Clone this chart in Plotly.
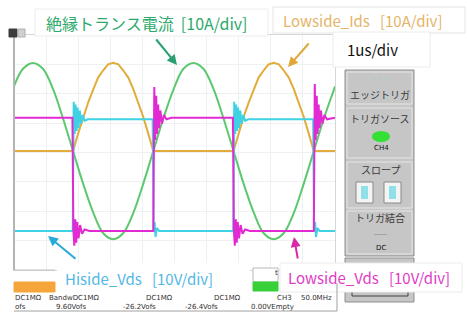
import plotly.graph_objects as go

# ---------------- data ----------------
# time axis in microseconds (1 us/div, 10 div)
t_current = [0.00, 0.28, 0.59, 0.90, 1.22, 1.53, 1.84, 2.15, 2.47, 2.78, 3.09, 3.40,
             3.72, 4.03, 4.34, 4.65, 4.97, 5.28, 5.59, 5.90, 6.22, 6.53, 6.84, 7.15,
             7.47, 7.78, 8.09, 8.40, 8.72, 9.03, 9.34, 9.65, 9.97, 10.00]
# insulating transformer current [A]
trafo_current = [22, 28, 30, 28, 21, 11, 0, -11, -21, -28, -30, -28,
                 -21, -11, 0, 11, 21, 28, 30, 28, 21, 11, 0, -11,
                 -21, -28, -30, -28, -21, -11, 0, 11, 21, 22]

# lowside drain current [A]
t_lowside_ids = [0.00, 1.84, 2.00, 2.15, 2.31, 2.47, 2.62, 2.78, 2.93, 3.09, 3.25, 3.40,
                 3.56, 3.72, 3.87, 4.03, 4.18, 4.34,
                 6.84, 7.00, 7.15, 7.31, 7.47, 7.62, 7.78, 7.93, 8.09, 8.25, 8.40,
                 8.56, 8.72, 8.87, 9.03, 9.18, 9.34, 10.00]
lowside_ids = [0, 0, 6, 11.5, 16.5, 21, 25, 27.5, 29.5, 30, 29.5, 27.5,
               25, 21, 16.5, 11.5, 6, 0,
               0, 6, 11.5, 16.5, 21, 25, 27.5, 29.5, 30, 29.5, 27.5,
               25, 21, 16.5, 11.5, 6, 0, 0]

# hiside Vds [V]
t_hiside_vds = [0.00, 1.83, 1.86, 1.89, 1.92, 1.95, 1.98, 2.01, 2.05, 2.09, 2.14, 2.20, 2.30,
                4.32, 4.35, 4.38, 4.41, 4.45, 4.52,
                6.83, 6.86, 6.89, 6.92, 6.95, 6.98, 7.01, 7.05, 7.09, 7.14, 7.20, 7.30,
                9.32, 9.35, 9.38, 9.41, 9.45, 9.52, 10.00]
hiside_vds = [0, 0, 44, 33, 43, 34, 42, 35, 41, 36.5, 39.5, 37.5, 38,
              38, 0, 3, -2, 1, 0,
              0, 44, 33, 43, 34, 42, 35, 41, 36.5, 39.5, 37.5, 38,
              38, 0, 3, -2, 1, 0, 0]

# lowside Vds [V]
t_lowside_vds = [0.00, 1.82, 1.85, 1.88, 1.91, 1.94, 1.97, 2.01, 2.06, 2.12, 2.20, 2.35,
                 4.34, 4.37, 4.40, 4.43, 4.46, 4.49, 4.52, 4.56, 4.61, 4.67, 4.75, 4.90,
                 6.82, 6.85, 6.88, 6.91, 6.94, 6.97, 7.01, 7.06, 7.12, 7.20, 7.35,
                 9.34, 9.37, 9.40, 9.43, 9.46, 9.49, 9.52, 9.56, 9.61, 9.67, 9.75, 10.00]
lowside_vds = [38.5, 38.5, 0, -5, 4, -4, 3, -2.5, 2, -1, 0.5, 0,
               0, 49, 31, 46, 33, 43, 35, 41, 36.5, 39.5, 38, 38.5,
               38.5, 0, -5, 4, -4, 3, -2.5, 2, -1, 0.5, 0,
               0, 50, 31, 46, 33, 43, 35, 41, 36.5, 39.5, 38, 38.5]

status_row1 = ["DC1MΩ", "BandwDC1MΩ", "DC1MΩ", "DC1MΩ", "CH3", "50.0MHz"]
status_row2 = ["ofs", "9.60Vofs", "-26.2Vofs", "-26.4Vofs", "0.00VEmpty"]

# ---------------- layout helpers ----------------
W, H = 467, 322


def X(px):
    return px / W


def Y(py):
    return 1 - py / H


GREEN = "#5cc86e"
ORANGE = "#e2ac3c"
CYAN = "#3fd2e4"
MAGENTA = "#e22ad2"

fig = go.Figure()
fig.add_trace(go.Scatter(x=t_hiside_vds, y=hiside_vds, yaxis="y2", mode="lines",
                         line=dict(color=CYAN, width=2), hoverinfo="skip"))
fig.add_trace(go.Scatter(x=t_lowside_vds, y=lowside_vds, yaxis="y2", mode="lines",
                         line=dict(color=MAGENTA, width=2), hoverinfo="skip"))
fig.add_trace(go.Scatter(x=t_lowside_ids, y=lowside_ids, mode="lines",
                         line=dict(color=ORANGE, width=2), hoverinfo="skip"))
fig.add_trace(go.Scatter(x=t_current, y=trafo_current, mode="lines",
                         line=dict(color=GREEN, width=2, shape="spline", smoothing=1),
                         hoverinfo="skip"))

px_top, px_bot = 35, 270
fig.update_layout(
    width=W, height=H, margin=dict(l=0, r=0, t=0, b=0),
    paper_bgcolor="white", plot_bgcolor="white", showlegend=False,
    xaxis=dict(domain=[X(14), X(335)], range=[0, 10], dtick=1, showticklabels=False,
               showgrid=True, gridcolor="#eef1f1", zeroline=False,
               showline=True, linecolor="#d6d6d6", mirror=True, ticks=""),
    yaxis=dict(domain=[Y(px_bot), Y(px_top)], range=[-40.5, 39.5], tick0=-0.5, dtick=10,
               showticklabels=False, showgrid=True, gridcolor="#eef1f1", zeroline=False,
               showline=True, linecolor="#d6d6d6", mirror=True, ticks=""),
    yaxis2=dict(domain=[Y(px_bot), Y(px_top)], range=[-13.3, 66.7], overlaying="y",
                showticklabels=False, showgrid=False, zeroline=False, ticks=""),
)

shapes = []


def rect(x0, y0, x1, y1, fill="white", line="#e2e2e2", lw=1, layer="above"):
    shapes.append(dict(type="rect", xref="paper", yref="paper", x0=X(x0), x1=X(x1),
                       y0=Y(y1), y1=Y(y0), fillcolor=fill,
                       line=dict(color=line, width=lw), layer=layer))


def hline(x0, x1, y, color="#a8a8a8", lw=1):
    shapes.append(dict(type="line", xref="paper", yref="paper", x0=X(x0), x1=X(x1),
                       y0=Y(y), y1=Y(y), line=dict(color=color, width=lw)))


def vline(x, y0, y1, color="#a8a8a8", lw=1):
    shapes.append(dict(type="line", xref="paper", yref="paper", x0=X(x), x1=X(x),
                       y0=Y(y0), y1=Y(y1), line=dict(color=color, width=lw)))


# left border of scope screen
vline(14, 35, 270, "#b4b4b4", 2)
hline(14, 55, 270, "#c0c0c0", 1)

# label boxes
rect(35, 9, 268, 36, line="#ececec")
rect(273, 7, 465, 33, line="#e4e4e4")
rect(333, 32, 430, 67, line="#ececec")
rect(57, 263, 250, 292, line="rgba(0,0,0,0)", lw=0)

# top-left icons
rect(9, 29, 17, 37, fill="#3c3c3c", line="#3c3c3c")
rect(18, 29, 25, 37, fill="#d0d0d0", line="#b0b0b0")

# right control panel
rect(345, 70, 414, 256, fill="#c6c6c6", line="#8e8e8e")
for (a, b) in [(72, 104), (108, 158), (162, 208), (211, 254)]:
    rect(347, a, 412, b, fill="#c6c6c6", line="#e6e6e6")
rect(356, 182, 373, 203, fill="#f4f4f4", line="#888888")
rect(384, 182, 401, 203, fill="#f4f4f4", line="#888888")
rect(361, 186, 368, 199, fill="#8fe0e8", line="rgba(0,0,0,0)", lw=0)
rect(389, 186, 396, 199, fill="#8fe0e8", line="rgba(0,0,0,0)", lw=0)
shapes.append(dict(type="circle", xref="paper", yref="paper", x0=X(372), x1=X(390),
                   y0=Y(142), y1=Y(131), fillcolor="#33e033", line=dict(width=0)))
rect(345, 258, 414, 302, fill="#c6c6c6", line="#8e8e8e")
hline(352, 408, 296, "#404040", 1)
vline(352, 288, 296, "#404040", 1)
vline(408, 288, 296, "#404040", 1)

# lowside Vds label box
rect(280, 263, 462, 292, line="#ececec")

# status bar
rect(14, 282, 55, 292, fill="#f5a53a", line="#f5a53a")
rect(253, 268, 278, 282, fill="white", line="#b8b8b8")
rect(253, 282, 278, 291, fill="#38d038", line="#38d038")
hline(14, 337, 311, "#a0a0a0", 1)
vline(337, 283, 311, "#a0a0a0", 1)

fig.update_layout(shapes=shapes)

JP = "Noto Sans CJK JP"
ann = []


def text(px, py, s, color, size, family=JP, anchor="center"):
    ann.append(dict(xref="paper", yref="paper", x=X(px), y=Y(py), text=s, showarrow=False,
                    xanchor=anchor, yanchor="middle", borderpad=0,
                    font=dict(family=family, size=size, color=color)))


def arrow(hx, hy, tx, ty, color):
    ann.append(dict(xref="paper", yref="paper", x=X(hx), y=Y(hy), ax=tx - hx, ay=ty - hy,
                    text="", showarrow=True, arrowhead=2, arrowsize=1, arrowwidth=2,
                    arrowcolor=color))


text(147, 23, "絶縁トランス電流&nbsp;&nbsp;[10A/div]", "#2eaa6c", 16)
text(362, 21, "Lowside_Ids&nbsp;&nbsp;&nbsp;[10A/div]", "#e4b468", 15)
text(372, 49, "1us/div", "#111111", 15)
text(139, 278, "Hiside_Vds&nbsp;&nbsp;&nbsp;[10V/div]", "#52b8e4", 15)
text(369, 277, "Lowside_Vds&nbsp;&nbsp;&nbsp;[10V/div]", "#e03cc6", 15)

arrow(177, 65, 155, 38, "#28a070")
arrow(288, 67, 310, 42, "#e0a838")
arrow(48, 236, 77, 260, "#2aa8d8")
arrow(294, 237, 298, 260, "#d82aa8")

# panel texts
text(380, 78, "- - -", "#7fd6d0", 8, "DejaVu Sans")
text(380, 95, "エッジトリガ", "#3a3a3a", 10)
text(380, 119, "トリガソース", "#3a3a3a", 10)
text(381, 148, "CH4", "#101010", 7, "DejaVu Sans")
text(380, 169, "スロープ", "#3a3a3a", 10)
text(380, 218, "トリガ結合", "#3a3a3a", 10)
text(380, 233, "------", "#6a6a6a", 6, "DejaVu Sans")
text(381, 248, "DC", "#101010", 7, "DejaVu Sans")
text(276, 273, "t", "#303030", 7, "DejaVu Sans")

# status rows
row1_x = [14, 48, 145, 213, 276, 300]
for s, x in zip(status_row1, row1_x):
    text(x, 298, s, "#303030", 7, "DejaVu Sans", anchor="left")
row2_x = [14, 55, 122, 184, 250]
for s, x in zip(status_row2, row2_x):
    text(x, 307, s, "#303030", 7, "DejaVu Sans", anchor="left")

fig.update_layout(annotations=ann)
fig.write_html("out.html", config={"displayModeBar": False},
               post_script="document.body.style.margin='0';document.body.style.overflow='hidden';")
